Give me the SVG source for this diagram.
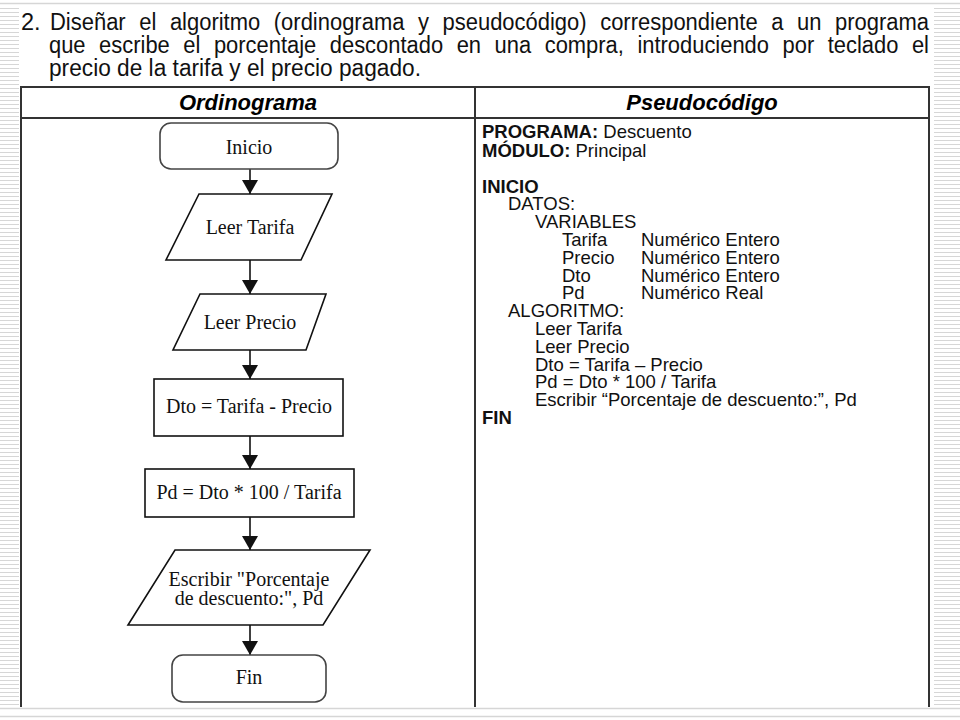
<svg xmlns="http://www.w3.org/2000/svg" width="960" height="720" viewBox="0 0 960 720">
<style>
.title{font-family:"Liberation Sans",Arial,sans-serif;font-size:23.5px;fill:#111}
.hdr{font-family:"Liberation Sans",Arial,sans-serif;font-size:22px;font-weight:bold;font-style:italic;fill:#000;text-anchor:middle}
.tbl{stroke:#333;stroke-width:2;fill:none}
.fc{fill:#fff;stroke:#111;stroke-width:1.6}
.term{fill:#fff;stroke:#444;stroke-width:1.6}
.ft{font-family:"Liberation Serif","Times New Roman",serif;font-size:20px;fill:#111;text-anchor:middle}
.conn{stroke:#111;stroke-width:1.6;fill:none}
.ps{font-family:"Liberation Sans",Arial,sans-serif;font-size:18.5px;fill:#111}
.b{font-weight:bold}
</style>
<defs>
<pattern id="stripes" width="4" height="4" patternUnits="userSpaceOnUse"><rect x="0" y="0" width="4" height="1" fill="#d6d6d6"/></pattern>
<marker id="arr" viewBox="0 0 14 16" refX="14" refY="8" markerWidth="14" markerHeight="16" markerUnits="userSpaceOnUse" orient="auto"><path d="M0,0 L14,8 L0,16 Z" fill="#111"/></marker>
</defs>
<rect width="960" height="720" fill="#fff"/>
<rect x="0" y="7" width="19" height="699" fill="url(#stripes)"/>
<rect x="934" y="7" width="26" height="699" fill="url(#stripes)"/>
<line x1="0" y1="3.5" x2="960" y2="3.5" stroke="#d6d6d6" stroke-width="1.5"/>
<line x1="0" y1="708.5" x2="960" y2="708.5" stroke="#d6d6d6" stroke-width="1.5"/>
<line x1="0" y1="716.5" x2="960" y2="716.5" stroke="#d6d6d6" stroke-width="1.5"/>

<g id="title">
<text class="title" x="21" y="30">2.</text>
<text class="title" x="50" y="30" word-spacing="8" textLength="879" lengthAdjust="spacingAndGlyphs">Diseñar el algoritmo (ordinograma y pseudocódigo) correspondiente a un programa</text>
<text class="title" x="49" y="53" word-spacing="8" textLength="880" lengthAdjust="spacingAndGlyphs">que escribe el porcentaje descontado en una compra, introduciendo por teclado el</text>
<text class="title" x="49" y="76" textLength="372" lengthAdjust="spacingAndGlyphs">precio de la tarifa y el precio pagado.</text>
</g>

<g id="table">
<path class="tbl" d="M21,707 V87 H929 V707 M21,118 H929 M475,87 V707"/>
<text class="hdr" x="248" y="110">Ordinograma</text>
<text class="hdr" x="702" y="110">Pseudocódigo</text>
</g>

<g id="connectors">
<line class="conn" x1="250" y1="169" x2="250" y2="194" marker-end="url(#arr)"/>
<line class="conn" x1="250" y1="260" x2="250" y2="294" marker-end="url(#arr)"/>
<line class="conn" x1="250" y1="350" x2="250" y2="379" marker-end="url(#arr)"/>
<line class="conn" x1="250" y1="436" x2="250" y2="469" marker-end="url(#arr)"/>
<line class="conn" x1="250" y1="517" x2="250" y2="550" marker-end="url(#arr)"/>
<line class="conn" x1="250" y1="625" x2="250" y2="655" marker-end="url(#arr)"/>
</g>

<g id="inicio">
<rect class="term" x="160" y="123" width="178" height="46" rx="11"/>
<text class="ft" x="249" y="154">Inicio</text>
</g>
<g id="leer-tarifa">
<polygon class="fc" points="199,194 332,194 301,260 166,260"/>
<text class="ft" x="250" y="234">Leer Tarifa</text>
</g>
<g id="leer-precio">
<polygon class="fc" points="200,294 326,294 306,350 173,350"/>
<text class="ft" x="250" y="329">Leer Precio</text>
</g>
<g id="dto">
<rect class="fc" x="154" y="379" width="189" height="57"/>
<text class="ft" x="249" y="413">Dto = Tarifa - Precio</text>
</g>
<g id="pd">
<rect class="fc" x="145" y="469" width="209" height="48"/>
<text class="ft" x="249" y="499">Pd = Dto * 100 / Tarifa</text>
</g>
<g id="escribir">
<polygon class="fc" points="175,550 370,550 323,625 128,625"/>
<text class="ft" x="249" y="586">Escribir "Porcentaje</text>
<text class="ft" x="249" y="605">de descuento:", Pd</text>
</g>
<g id="fin">
<rect class="term" x="172" y="655" width="154" height="47" rx="11"/>
<text class="ft" x="249" y="684">Fin</text>
</g>

<g id="pseudocodigo">
<text class="ps" x="482" y="137.5"><tspan class="b">PROGRAMA:</tspan> Descuento</text>
<text class="ps" x="482" y="156.5"><tspan class="b">MÓDULO:</tspan> Principal</text>
<text class="ps b" x="482" y="192.5">INICIO</text>
<text class="ps" x="508" y="210.3">DATOS:</text>
<text class="ps" x="535" y="228.1">VARIABLES</text>
<text class="ps" x="562" y="245.9">Tarifa</text><text class="ps" x="641" y="245.9">Numérico Entero</text>
<text class="ps" x="562" y="263.7">Precio</text><text class="ps" x="641" y="263.7">Numérico Entero</text>
<text class="ps" x="562" y="281.5">Dto</text><text class="ps" x="641" y="281.5">Numérico Entero</text>
<text class="ps" x="562" y="299.3">Pd</text><text class="ps" x="641" y="299.3">Numérico Real</text>
<text class="ps" x="508" y="317.1">ALGORITMO:</text>
<text class="ps" x="535" y="334.9">Leer Tarifa</text>
<text class="ps" x="535" y="352.7">Leer Precio</text>
<text class="ps" x="535" y="370.5">Dto = Tarifa – Precio</text>
<text class="ps" x="535" y="388.3">Pd = Dto * 100 / Tarifa</text>
<text class="ps" x="535" y="406.1">Escribir “Porcentaje de descuento:”, Pd</text>
<text class="ps b" x="482" y="423.9">FIN</text>
</g>
</svg>
